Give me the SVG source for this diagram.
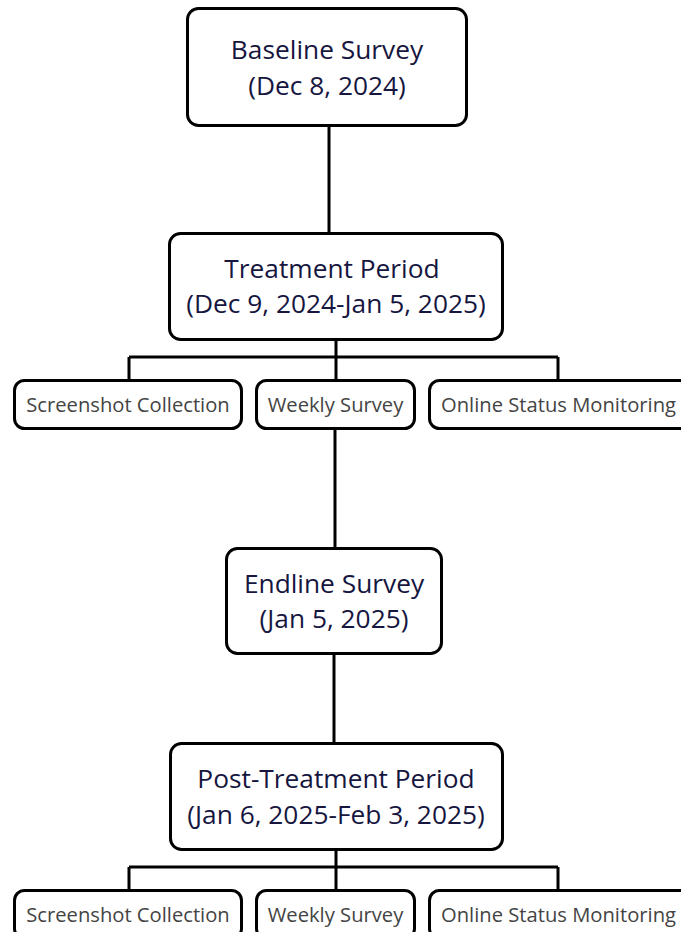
<svg xmlns="http://www.w3.org/2000/svg" width="681" height="932" viewBox="0 0 681 932">
<style>
.box{fill:#fff;stroke:#000;stroke-width:3}
.big{font-family:"Open Sans","Noto Sans",sans-serif;font-size:26.3px;fill:#16163f;text-anchor:middle}
.sm{font-family:"Open Sans","Noto Sans",sans-serif;font-size:20.2px;fill:#444;text-anchor:middle}
.ln{fill:none;stroke:#000;stroke-width:3}
</style>
<rect width="681" height="932" fill="#fff"/>
<g id="connectors">
<path class="ln" d="M329 125V233"/>
<path class="ln" d="M336 339V357M129 357H558M129 357V380M336 357V380M558 357V380"/>
<path class="ln" d="M335 428V548"/>
<path class="ln" d="M334 653V743"/>
<path class="ln" d="M336 849V867M129 867H558M129 867V890M336 867V890M558 867V890"/>
</g>
<g id="baseline"><rect class="box" x="187.5" y="8.5" width="279" height="117" rx="11"/>
<text class="big" x="327" y="59">Baseline Survey</text><text class="big" x="327" y="95">(Dec 8, 2024)</text></g>
<g id="treatment"><rect class="box" x="169.5" y="233.5" width="333" height="106" rx="11"/>
<text class="big" x="332" y="278">Treatment Period</text><text class="big" x="336" y="313">(Dec 9, 2024-Jan 5, 2025)</text></g>
<g id="screenshot1"><rect class="box" x="14.5" y="380.5" width="227" height="48" rx="10"/><text class="sm" x="128" y="412">Screenshot Collection</text></g>
<g id="weekly1"><rect class="box" x="256.5" y="380.5" width="158" height="48" rx="10"/><text class="sm" x="335.5" y="412">Weekly Survey</text></g>
<g id="online1"><rect class="box" x="429.5" y="380.5" width="262" height="48" rx="10"/><text class="sm" x="558.5" y="412">Online Status Monitoring</text></g>
<g id="endline"><rect class="box" x="226.5" y="548.5" width="215" height="105" rx="11"/>
<text class="big" x="334" y="593">Endline Survey</text><text class="big" x="334" y="628">(Jan 5, 2025)</text></g>
<g id="posttreatment"><rect class="box" x="170.5" y="743.5" width="332" height="106" rx="11"/>
<text class="big" x="336" y="788">Post-Treatment Period</text><text class="big" x="336" y="824">(Jan 6, 2025-Feb 3, 2025)</text></g>
<g id="screenshot2"><rect class="box" x="14.5" y="890.5" width="227" height="48" rx="10"/><text class="sm" x="128" y="922">Screenshot Collection</text></g>
<g id="weekly2"><rect class="box" x="256.5" y="890.5" width="158" height="48" rx="10"/><text class="sm" x="335.5" y="922">Weekly Survey</text></g>
<g id="online2"><rect class="box" x="429.5" y="890.5" width="262" height="48" rx="10"/><text class="sm" x="558.5" y="922">Online Status Monitoring</text></g>
</svg>
